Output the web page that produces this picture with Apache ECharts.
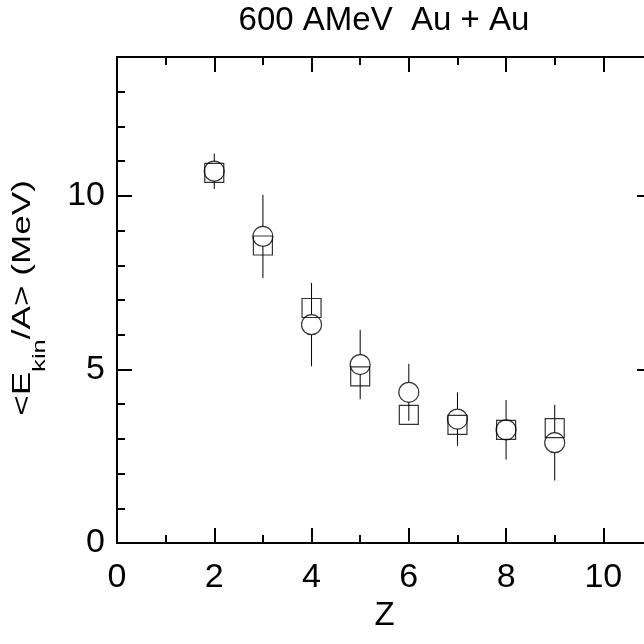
<!DOCTYPE html>
<html>
<head>
<meta charset="utf-8">
<script src="https://cdn.jsdelivr.net/npm/echarts@6/dist/echarts.min.js"></script>
<style>
  html, body { margin: 0; padding: 0; background: #fff; }
  #main { width: 644px; height: 644px; }
</style>
</head>
<body>
<div id="main"></div>
<script>
// Z of each fragment
var zValues = [2, 3, 4, 5, 6, 7, 8, 9];
// circles (with error bars)
var circleValues = [10.71, 8.83, 6.29, 5.14, 4.34, 3.57, 3.26, 2.89];
var circleErrors = [0.51, 1.2, 1.2, 1.0, 0.82, 0.77, 0.86, 1.09];
// squares
var squareValues = [10.66, 8.57, 6.77, 4.80, 3.69, 3.40, 3.26, 3.31];

var xTickLabels = ["0", "2", "4", "6", "8", "10"];
var yTickLabels = ["0", "5", "10"];

var font = "Liberation Sans";
var R = 10; // circle radius, error bars stop at its edge

var circleData = zValues.map(function (z, i) { return [z, circleValues[i]]; });
var squareData = zValues.map(function (z, i) { return [z, squareValues[i]]; });
var errorData = zValues.map(function (z, i) {
  return [z, circleValues[i] - circleErrors[i], circleValues[i] + circleErrors[i], circleValues[i]];
});

function makeAxis(pos, interval, tickLen, max, extra) {
  var a = {
    type: "value",
    position: pos,
    min: 0,
    max: max,
    interval: interval,
    axisLine: { show: true, onZero: false, lineStyle: { color: "#000", width: 2 } },
    axisTick: { show: true, inside: true, length: tickLen, lineStyle: { color: "#000", width: 2 } },
    axisLabel: { show: false },
    splitLine: { show: false }
  };
  return Object.assign(a, extra || {});
}

var myChart = echarts.init(document.getElementById("main"));

var option = {
  animation: false,
  backgroundColor: "#fff",
  textStyle: { fontFamily: font },
  title: {
    text: "600 AMeV  Au + Au",
    left: 384,
    top: 4,
    padding: 0,
    textAlign: "center",
    textStyle: { fontFamily: font, fontSize: 33, fontWeight: "normal", color: "#000" }
  },
  // y title is drawn stretched along its length, like the original
  graphic: [
    {
      type: "text",
      x: 23,
      y: 298,
      rotation: Math.PI / 2,
      scaleX: 1.35,
      style: {
        text: "{n|<E}{s|kin}{n|/A> (MeV)}",
        align: "center",
        verticalAlign: "middle",
        rich: {
          n: { fontFamily: font, fontSize: 26, fill: "#000" },
          s: { fontFamily: font, fontSize: 19, fill: "#000", padding: [34, 0, 0, 0] }
        }
      }
    }
  ],
  grid: { left: 117, top: 57, right: -8, bottom: 101, containLabel: false, outerBoundsMode: "none" },
  xAxis: [
    makeAxis("bottom", 2, 15, 11, {
      name: "Z",
      nameLocation: "middle",
      nameGap: 52,
      nameTextStyle: { fontFamily: font, fontSize: 33, color: "#000" },
      axisLabel: {
        show: true,
        margin: 18,
        fontSize: 34,
        color: "#000",
        fontFamily: font,
        formatter: function (v) {
          return xTickLabels.indexOf(String(v)) >= 0 ? String(v) : "";
        }
      }
    }),
    makeAxis("bottom", 1, 8, 11),
    makeAxis("top", 2, 15, 11),
    makeAxis("top", 1, 8, 11)
  ],
  yAxis: [
    makeAxis("left", 5, 15, 14, {
      axisLabel: {
        show: true,
        margin: 12,
        fontSize: 34,
        color: "#000",
        fontFamily: font,
        formatter: function (v) {
          return yTickLabels.indexOf(String(v)) >= 0 ? String(v) : "";
        }
      }
    }),
    makeAxis("left", 1, 8, 14),
    makeAxis("right", 5, 15, 14),
    makeAxis("right", 1, 8, 14)
  ],
  series: [
    {
      type: "custom",
      name: "errors",
      xAxisIndex: 0,
      yAxisIndex: 0,
      data: errorData,
      encode: { x: 0, y: [1, 2] },
      renderItem: function (params, api) {
        var lo = api.coord([api.value(0), api.value(1)]);
        var hi = api.coord([api.value(0), api.value(2)]);
        var mid = api.coord([api.value(0), api.value(3)]);
        var st = { stroke: "#000", lineWidth: 1 };
        return {
          type: "group",
          children: [
            { type: "line", shape: { x1: hi[0], y1: hi[1], x2: mid[0], y2: mid[1] - R }, style: st },
            { type: "line", shape: { x1: mid[0], y1: mid[1] + R, x2: lo[0], y2: lo[1] }, style: st }
          ]
        };
      }
    },
    {
      type: "scatter",
      name: "squares",
      xAxisIndex: 0,
      yAxisIndex: 0,
      data: squareData,
      symbol: "rect",
      symbolSize: 19,
      itemStyle: { color: "transparent", borderColor: "#000", borderWidth: 1.2 }
    },
    {
      type: "scatter",
      name: "circles",
      xAxisIndex: 0,
      yAxisIndex: 0,
      data: circleData,
      symbol: "circle",
      symbolSize: 2 * R,
      itemStyle: { color: "transparent", borderColor: "#000", borderWidth: 1.2 }
    }
  ]
};

myChart.setOption(option);
</script>
</body>
</html>
